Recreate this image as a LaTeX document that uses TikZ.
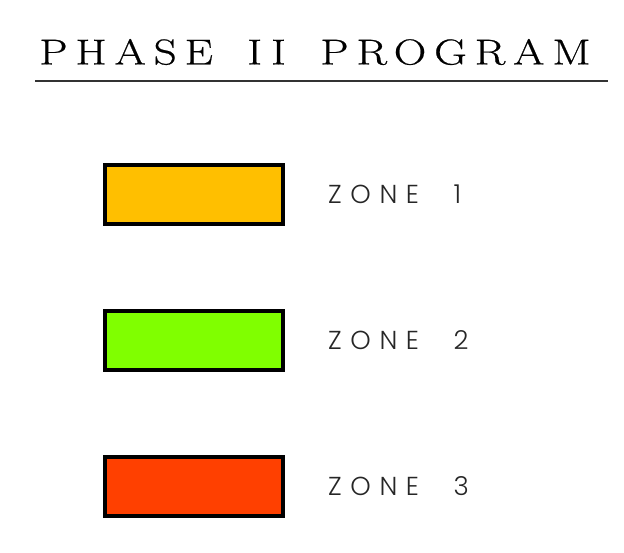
\documentclass[tikz,border=0pt]{standalone}
\usepackage{fontspec}
\setmainfont{Latin Modern Roman}
\newfontfamily\titlefont[LetterSpace=22,FakeStretch=1.25,WordSpace=1.6,FakeBold=0.6]{Latin Modern Roman}
\newfontfamily\zonefont[LetterSpace=33,WordSpace=2.2]{Poppins Light}
\definecolor{zoneA}{HTML}{FFBF00}
\definecolor{zoneB}{HTML}{80FF00}
\definecolor{zoneC}{HTML}{FF4000}
\tikzset{
  zonebox/.style={draw=black, line width=3.8pt},
  zonelabel/.style={anchor=west, inner sep=0pt, font=\zonefont\fontsize{26}{26}\selectfont, text=black!85},
  titletext/.style={inner sep=0pt, font=\titlefont\fontsize{36}{36}\selectfont}
}
\begin{document}
\begin{tikzpicture}[x=1pt,y=-1pt]
\useasboundingbox (0,0) rectangle (624,553);
\node[titletext] (title) at (315,52) {PHASE II PROGRAM};
\coordinate (ulA) at (35,81);
\coordinate (ulB) at (608,81);
\draw[line width=1.3pt, black!80] (ulA) -- (ulB);
\filldraw[zonebox, fill=zoneA] (105,165) rectangle (283,224);
\filldraw[zonebox, fill=zoneB] (105,311) rectangle (283,370);
\filldraw[zonebox, fill=zoneC] (105,457) rectangle (283,516);
\node[zonelabel] (z1) at (328,194) {ZONE 1};
\node[zonelabel] (z2) at (328,340) {ZONE 2};
\node[zonelabel] (z3) at (328,486) {ZONE 3};
\end{tikzpicture}
\end{document}
